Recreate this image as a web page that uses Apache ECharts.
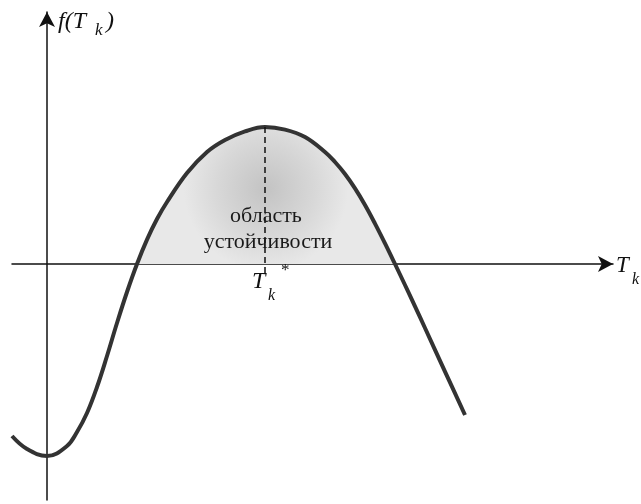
<!DOCTYPE html>
<html>
<head>
<meta charset="utf-8">
<script src="https://cdn.jsdelivr.net/npm/echarts@6/dist/echarts.min.js"></script>
<style>
  html, body { margin: 0; padding: 0; background: #fff; }
  #chart { width: 641px; height: 504px; }
</style>
</head>
<body>
<div id="chart"></div>
<script>
// Curve f(T_k): T values and f values (abstract units, origin at the axes crossing)
var tValues = [-1.75, -1, 0, 1, 1.5, 2, 2.5, 3, 3.5, 4, 4.5, 5, 5.5, 6, 7, 8, 8.9, 9.9, 10.9, 11.9, 12.9, 13.9, 14.4, 14.9, 15.4, 15.9, 16.4, 16.9, 17.4, 17.9, 18.4, 18.9, 19.9, 20.9];
var fValues = [-8.6, -9.25, -9.6, -9.1, -8.4, -7.45, -6.15, -4.6, -2.95, -1.4, 0, 1.22, 2.25, 3.1, 4.55, 5.6, 6.2, 6.63, 6.85, 6.72, 6.35, 5.6, 5.1, 4.5, 3.78, 2.95, 2.02, 1.03, 0, -1.05, -2.12, -3.2, -5.38, -7.55];
// Optimum T_k* and f(T_k*)
var peakT = 10.9;
var peakF = 6.85;
var dashEndF = -0.6;
// Axis ranges
var tMin = -1.75, tMax = 28.3;
var fMin = -11.8, fMax = 12.6;
// Texts
var regionLines = ['область', 'устойчивости'];

var curve = tValues.map(function (t, i) { return [t, fValues[i]]; });
var positive = curve.filter(function (p) { return p[1] >= 0; });

var chart = echarts.init(document.getElementById('chart'));
var serif = '"Liberation Serif", "DejaVu Serif", serif';
var txt = function (text, x, y, size, italic) {
  return {
    type: 'text', x: x, y: y, z: 100,
    style: {
      text: text,
      font: (italic ? 'italic ' : '') + size + 'px ' + serif,
      fill: '#111',
      verticalAlign: 'middle',
      align: 'left'
    }
  };
};
var ctr = function (text, x, y, size) {
  return {
    type: 'text', x: x, y: y, z: 100,
    style: {
      text: text, font: size + 'px ' + serif, fill: '#1a1a1a',
      verticalAlign: 'middle', align: 'center'
    }
  };
};

chart.setOption({
  animation: false,
  backgroundColor: '#fff',
  grid: { left: 12, right: 28, top: 12, bottom: 4 },
  xAxis: {
    type: 'value', min: tMin, max: tMax,
    axisLine: { onZero: true, symbol: ['none', 'arrow'], symbolSize: [12, 15], lineStyle: { color: '#111', width: 1.5 } },
    axisTick: { show: false }, axisLabel: { show: false }, splitLine: { show: false }
  },
  yAxis: {
    type: 'value', min: fMin, max: fMax,
    axisLine: { onZero: true, symbol: ['none', 'arrow'], symbolSize: [12, 15], lineStyle: { color: '#111', width: 1.5 } },
    axisTick: { show: false }, axisLabel: { show: false }, splitLine: { show: false }
  },
  series: [
    {
      type: 'line', data: positive, smooth: 0.4, showSymbol: false, z: 1,
      lineStyle: { width: 0 },
      areaStyle: {
        opacity: 1,
        color: {
          type: 'radial', x: 0.5, y: 0.45, r: 0.6,
          colorStops: [
            { offset: 0, color: '#c3c3c3' },
            { offset: 0.6, color: '#d8d8d8' },
            { offset: 1, color: '#e8e8e8' }
          ]
        }
      }
    },
    {
      type: 'line', data: curve, smooth: 0.4, showSymbol: false, z: 3,
      lineStyle: { width: 4, color: '#333' },
      markLine: {
        silent: true, symbol: 'none', label: { show: false },
        lineStyle: { type: [6, 4], color: '#111', width: 1.5 },
        data: [[{ coord: [peakT, peakF] }, { coord: [peakT, dashEndF] }]]
      }
    }
  ],
  graphic: [
    txt('f(T', 58, 22, 24, true),
    txt('k', 95, 31, 17, true),
    txt(')', 106, 22, 24, true),
    txt('T', 616, 266, 23, true),
    txt('k', 632, 280, 16, true),
    txt('T', 252, 282, 24, true),
    txt('k', 268, 296, 16, true),
    txt('*', 281, 271, 17, false),
    ctr(regionLines[0], 266, 216, 22),
    ctr(regionLines[1], 268, 242, 22)
  ]
});
</script>
</body>
</html>
